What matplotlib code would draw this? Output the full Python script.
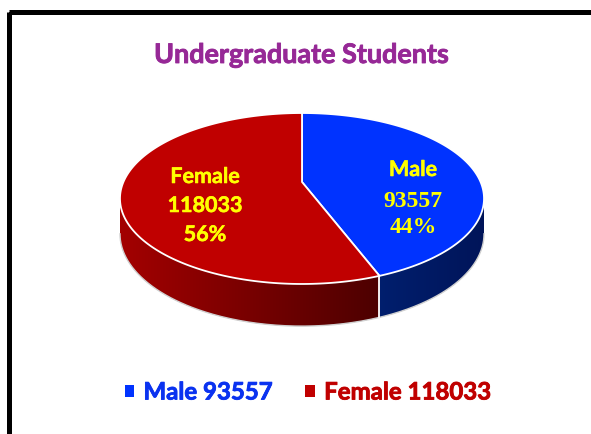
import numpy as np
import matplotlib
matplotlib.use("Agg")
import matplotlib.pyplot as plt
import matplotlib.patheffects as pe
from matplotlib.patches import Polygon, Rectangle, Patch

# ---------------- data ----------------
title = "Undergraduate Students"
categories = ["Male", "Female"]
students = [93557, 118033]

top_colors = ["#0033FF", "#C00000"]
side_colors = [((0.0, 0.12, 0.43), (0.0, 0.08, 0.35)),     # male side: left -> right
               ((0.64, 0.0, 0.0), (0.30, 0.0, 0.0))]      # female side
legend_colors = ["#0A32F0", "#C00000"]
label_pos = [(413, 176), (205, 183)]      # baseline of first label line

SANS = "Lato"
SERIF = "Liberation Serif"


def heavy(color, w=0.5):
    # thicken the sans text a bit (closer to Calibri bold)
    return [pe.withStroke(linewidth=w, foreground=color)]


# ---------------- geometry of the 3d pie ----------------
W, H = 591, 434
cx, cy = 302, 182          # pie centre on screen
s, sk = 178.6, 82.3        # horizontal / vertical scale
p = 0.193                  # perspective strength
dep = 34                   # thickness


def proj(t, z=0.0):
    r = np.radians(t)
    w = 1 + p * np.sin(r)
    x = cx + s * np.cos(r) / w
    y = cy - sk * np.sin(r) / w + z * dep / w
    return x, y


fig = plt.figure(figsize=(W / 100, H / 100), dpi=100)
ax = fig.add_axes([0, 0, 1, 1])
ax.set_xlim(0, W)
ax.set_ylim(H, 0)
ax.axis("off")

# frame
ax.add_patch(Rectangle((8.5, 11.5), 700, 600, fill=False, ec="black", lw=3.6, zorder=0))

shares = np.array(students) / sum(students)
ends = 90 - 360 * np.cumsum(shares)
starts = np.concatenate([[90], ends[:-1]])

# visible part of the side
lo = 180 + np.degrees(np.arcsin(p))
hi = 360 - np.degrees(np.arcsin(p))

for i in range(len(categories)):
    a, b = ends[i], starts[i]
    for k in (-360, 0, 360):
        t0, t1 = max(a + k, lo), min(b + k, hi)
        if t1 <= t0:
            continue
        ts = np.linspace(t0, t1, 200)
        tx, ty = proj(ts)
        bx, by = proj(ts[::-1], 1)
        poly = Polygon(np.column_stack([np.r_[tx, bx], np.r_[ty, by]]),
                       closed=True, fc="none", ec="none")
        ax.add_patch(poly)
        # horizontal gradient clipped to the side
        c_l, c_r = np.array(side_colors[i][0]), np.array(side_colors[i][1])
        f = np.linspace(0, 1, 256)[None, :, None]
        grad = c_l + (c_r - c_l) * f
        x0, x1 = tx.min(), tx.max()
        y0, y1 = ty.min() - 2, by.max() + 2
        im = ax.imshow(grad, extent=[x0, x1, y1, y0], aspect="auto",
                       interpolation="bilinear", zorder=1)
        im.set_clip_path(poly)
        # bottom edge
        ax.plot(bx, by, color="#d0d0d0", lw=1.0, zorder=2)

ax.set_xlim(0, W)
ax.set_ylim(H, 0)

# white vertical lines at slice borders on the side
for t in starts:
    tt = t % 360
    if lo < tt < hi:
        x0, y0 = proj(tt)
        x1, y1 = proj(tt, 1)
        ax.plot([x0, x1], [y0, y1], color="white", lw=1.3, zorder=2)

# top faces
for i in range(len(categories)):
    ts = np.linspace(starts[i], ends[i], 200)
    xs, ys = proj(ts)
    pts = np.column_stack([np.r_[cx, xs], np.r_[cy, ys]])
    ax.add_patch(Polygon(pts, closed=True, fc=top_colors[i], ec="white",
                         lw=1.3, zorder=3, joinstyle="round"))

# ---------------- texts ----------------
title_color = "#962896"
ax.text(301, 63, title, ha="center", va="baseline", color=title_color,
        fontsize=19.4, fontweight="bold", family=SANS,
        path_effects=heavy(title_color, 0.6))

pct = np.round(shares * 100).astype(int)
# male label: name in sans, numbers in serif
mx, my = label_pos[0]
ax.text(mx, my, categories[0], ha="center", va="baseline", color="#FFFF00",
        fontsize=15.5, fontweight="bold", family=SANS, zorder=5,
        path_effects=heavy("#FFFF00", 0.4))
ax.text(mx, my + 31, str(students[0]), ha="center", va="baseline", color="#FFFF00",
        fontsize=17, fontweight="bold", family=SERIF, zorder=5)
ax.text(mx, my + 57, f"{pct[0]}%", ha="center", va="baseline", color="#FFFF00",
        fontsize=17, fontweight="bold", family=SERIF, zorder=5)

fx, fy = label_pos[1]
for n, line in enumerate([categories[1], str(students[1]), f"{pct[1]}%"]):
    ax.text(fx, fy + 29 * n, line, ha="center", va="baseline", color="#FFFF00",
            fontsize=15.5, fontweight="bold", family=SANS, zorder=5,
            path_effects=heavy("#FFFF00", 0.4))

handles = [Patch(fc=c, ec="none") for c in top_colors]
labels = [f"{c} {v}" for c, v in zip(categories, students)]
leg = ax.legend(handles, labels, loc="center", bbox_to_anchor=(308, 392),
                bbox_transform=ax.transData, ncol=2, frameon=False,
                handlelength=0.4, handleheight=0.4, handletextpad=0.38,
                columnspacing=1.35,
                prop={"family": SANS, "weight": "bold", "size": 17.3})
for txt, c in zip(leg.get_texts(), legend_colors):
    txt.set_color(c)
    txt.set_path_effects(heavy(c, 0.6))

fig.savefig("out.png", dpi=100)
